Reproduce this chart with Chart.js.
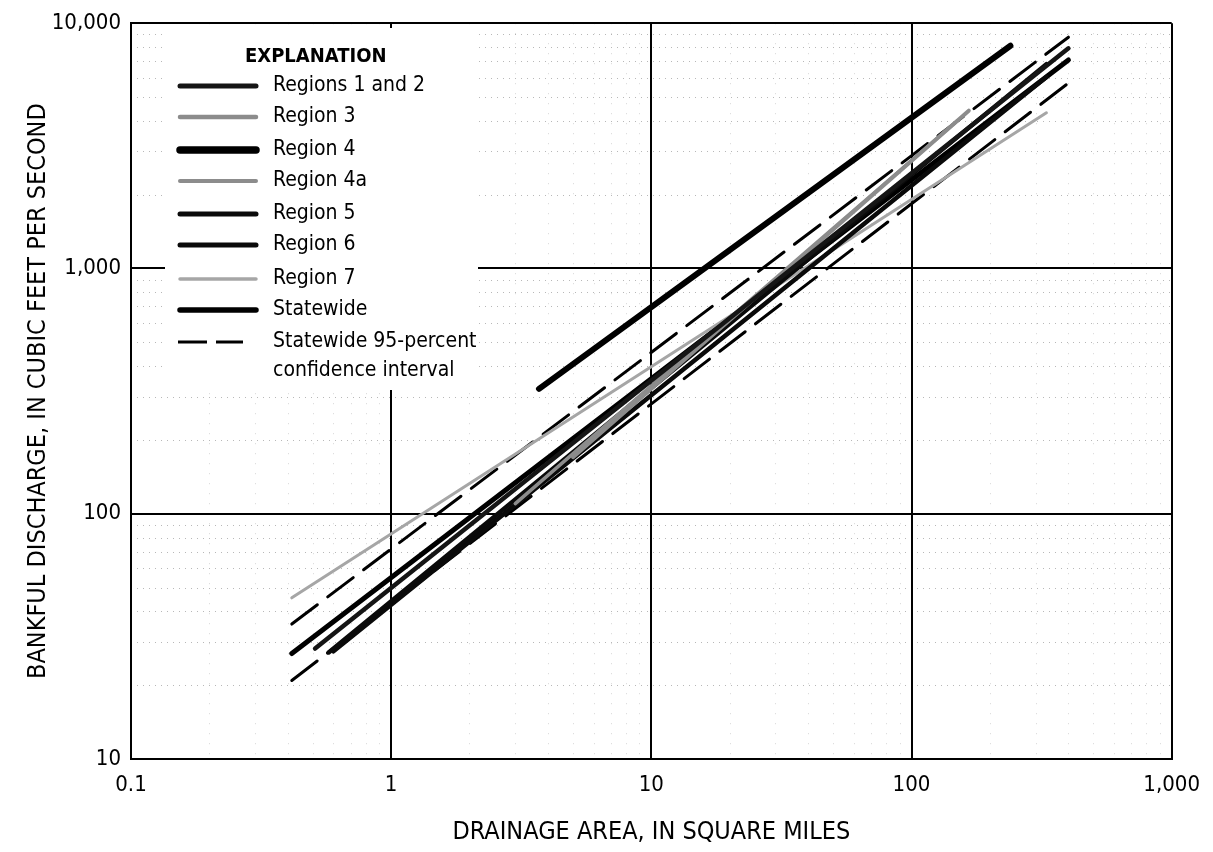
<!DOCTYPE html>
<html>
<head>
<meta charset="utf-8">
<script src="https://cdn.jsdelivr.net/npm/chart.js@4/dist/chart.umd.min.js"></script>
<style>
  html, body { margin: 0; padding: 0; background: #fff; }
  canvas { display: block; }
</style>
</head>
<body>
<canvas id="c" width="1213" height="852"></canvas>
<script>
// ---------------- DATA ----------------
const xTicks = [0.1, 1, 10, 100, 1000];
const xTickLabels = ['0.1', '1', '10', '100', '1,000'];
const yTicks = [10, 100, 1000, 10000];
const yTickLabels = ['10', '100', '1,000', '10,000'];

const seriesNames = ['Regions 1 and 2', 'Region 3', 'Region 4', 'Region 4a', 'Region 5',
  'Region 6', 'Region 7', 'Statewide', 'Statewide 95-percent upper', 'Statewide 95-percent lower'];

// drainage area (sq mi) end points and bankfull discharge (cfs) end points
const region12X = [0.51, 401];   const region12Y = [28.2, 7900];
const region3X  = [5.0, 166];    const region3Y  = [170, 4400];
const region4X  = [3.7, 240];    const region4Y  = [323, 8090];
const region4aX = [3.0, 150];    const region4aY = [110, 4000];
const region5X  = [0.575, 330];  const region5Y  = [27.2, 6810];
const region6X  = [0.6, 330];    const region6Y  = [27.5, 6040];
const region7X  = [0.415, 330];  const region7Y  = [45.4, 4310];
const stateX    = [0.415, 401];  const stateY    = [26.9, 7080];
const ciUpperX  = [0.415, 401];  const ciUpperY  = [35.5, 8770];
const ciLowerX  = [0.415, 401];  const ciLowerY  = [20.9, 5700];

// ---------------- BUILD ----------------
const FONT = "'Liberation Sans Narrow', 'DejaVu Sans Condensed', 'Roboto Condensed', sans-serif";
const pts = (xs, ys) => xs.map((x, i) => ({ x: x, y: ys[i] }));

const styles = [
  { color: '#151515', width: 4.5 },
  { color: '#8c8c8c', width: 4 },
  { color: '#000000', width: 6 },
  { color: '#8c8c8c', width: 3.5 },
  { color: '#0a0a0a', width: 4.5 },
  { color: '#0a0a0a', width: 4.5 },
  { color: '#a6a6a6', width: 3 },
  { color: '#000000', width: 5 },
  { color: '#000000', width: 3, dash: [32, 13] },
  { color: '#000000', width: 3, dash: [32, 13] }
];
const seriesXY = [
  [region12X, region12Y], [region3X, region3Y], [region4X, region4Y], [region4aX, region4aY],
  [region5X, region5Y], [region6X, region6Y], [region7X, region7Y], [stateX, stateY],
  [ciUpperX, ciUpperY], [ciLowerX, ciLowerY]
];

const datasets = seriesXY.map((xy, i) => ({
  label: seriesNames[i],
  data: pts(xy[0], xy[1]),
  borderColor: styles[i].color,
  borderWidth: styles[i].width,
  borderDash: styles[i].dash || [],
  borderCapStyle: 'round',
  pointRadius: 0,
  fill: false,
  tension: 0
}));

const xMinor = [];
const yMinor = [];
[0.1, 1, 10, 100].forEach(d => { for (let k = 2; k <= 9; k++) xMinor.push(d * k); });
[10, 100, 1000].forEach(d => { for (let k = 2; k <= 9; k++) yMinor.push(d * k); });

// legend entries (label, dataset index)
const legendEntries = [
  ['Regions 1 and 2', 0], ['Region 3', 1], ['Region 4', 2], ['Region 4a', 3],
  ['Region 5', 4], ['Region 6', 5], ['Region 7', 6], ['Statewide', 7]
];

const backgroundPlugin = {
  id: 'minorAndBox',
  beforeDatasetsDraw(chart) {
    const { ctx, chartArea: a, scales: { x, y } } = chart;
    ctx.save();
    ctx.lineWidth = 1;
    ctx.setLineDash([1, 5]);
    ctx.strokeStyle = 'rgba(0,0,0,0.28)';
    yMinor.forEach(v => {
      const py = Math.round(y.getPixelForValue(v)) + 0.5;
      ctx.beginPath(); ctx.moveTo(a.left, py); ctx.lineTo(a.right, py); ctx.stroke();
    });
    ctx.setLineDash([1, 9]);
    ctx.strokeStyle = 'rgba(0,0,0,0.16)';
    xMinor.forEach(v => {
      const px = Math.round(x.getPixelForValue(v)) + 0.5;
      ctx.beginPath(); ctx.moveTo(px, a.top); ctx.lineTo(px, a.bottom); ctx.stroke();
    });
    ctx.setLineDash([]);
    // explanation box (white, covers the grid)
    ctx.fillStyle = '#ffffff';
    ctx.fillRect(165, 28, 313, 362);
    ctx.restore();
  },
  afterDatasetsDraw(chart) {
    const { ctx } = chart;
    ctx.save();
    ctx.fillStyle = '#000';
    ctx.textBaseline = 'middle';
    ctx.font = "bold 20px " + FONT;
    ctx.fillText('EXPLANATION', 245, 57);
    ctx.font = "21px " + FONT;
    const rows = [86, 117, 150, 181, 214, 245, 279, 310];
    legendEntries.forEach((e, i) => {
      const st = styles[e[1]];
      const yy = rows[i];
      ctx.strokeStyle = st.color;
      ctx.lineWidth = st.width + (i === 2 ? 1.5 : 0.5);
      ctx.lineCap = 'round';
      ctx.setLineDash([]);
      ctx.beginPath(); ctx.moveTo(180, yy); ctx.lineTo(256, yy); ctx.stroke();
      ctx.fillText(e[0], 273, yy);
    });
    // confidence interval
    ctx.strokeStyle = '#000';
    ctx.lineWidth = 3;
    ctx.lineCap = 'butt';
    ctx.beginPath(); ctx.moveTo(178, 342); ctx.lineTo(207, 342); ctx.stroke();
    ctx.beginPath(); ctx.moveTo(216, 342); ctx.lineTo(243, 342); ctx.stroke();
    ctx.fillText('Statewide 95-percent', 273, 342);
    ctx.fillText('confidence interval', 273, 371);
    ctx.restore();
  }
};

new Chart(document.getElementById('c').getContext('2d'), {
  type: 'line',
  data: { datasets: datasets },
  options: {
    responsive: false,
    animation: false,
    devicePixelRatio: 1,
    layout: { autoPadding: false, padding: { top: 19, right: 35, left: 0, bottom: 0 } },
    plugins: { legend: { display: false }, tooltip: { enabled: false } },
    elements: { point: { radius: 0 } },
    scales: {
      x: {
        type: 'logarithmic',
        position: 'bottom',
        min: 0.1, max: 1000,
        afterBuildTicks: s => { s.ticks = xTicks.map(v => ({ value: v })); },
        afterFit: s => { s.height = 93; },
        ticks: {
          autoSkip: false, maxRotation: 0, minRotation: 0, padding: 13,
          color: '#000', font: { family: FONT, size: 22 },
          callback: (v, i) => xTickLabels[i]
        },
        grid: { color: '#000', lineWidth: 2, drawTicks: false },
        border: { color: '#000', width: 2 },
        title: {
          display: true, text: 'DRAINAGE AREA, IN SQUARE MILES', color: '#000',
          font: { family: FONT, size: 25 }, padding: { top: 0, bottom: 5 }
        }
      },
      y: {
        type: 'logarithmic',
        position: 'left',
        min: 10, max: 10000,
        afterBuildTicks: s => { s.ticks = yTicks.map(v => ({ value: v })); },
        afterFit: s => { s.width = 131; },
        ticks: {
          autoSkip: false, padding: 10,
          color: '#000', font: { family: FONT, size: 22 },
          callback: (v, i) => yTickLabels[i]
        },
        grid: { color: '#000', lineWidth: 2, drawTicks: false },
        border: { color: '#000', width: 2 },
        title: {
          display: true, text: 'BANKFUL DISCHARGE, IN CUBIC FEET PER SECOND', color: '#000',
          font: { family: FONT, size: 25 }, padding: { top: 23, bottom: 0 }
        }
      }
    }
  },
  plugins: [backgroundPlugin]
});
</script>
</body>
</html>
